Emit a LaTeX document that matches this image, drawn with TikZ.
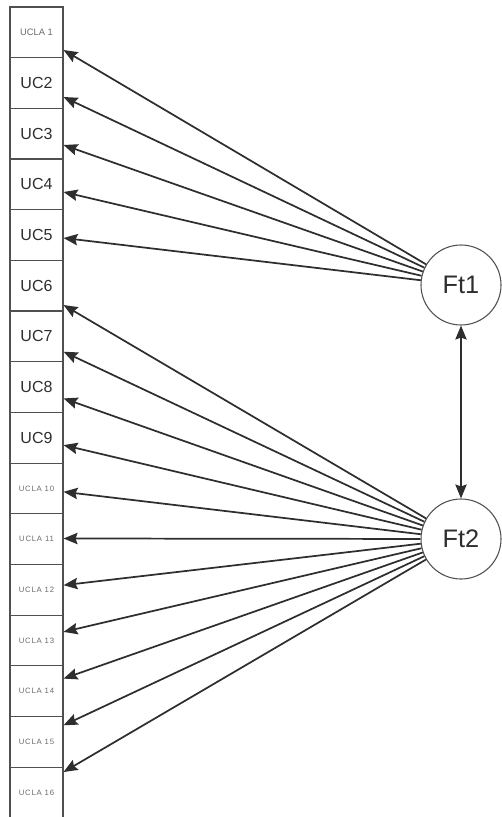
\documentclass[tikz,border=0pt]{standalone}
\usepackage{fontspec}
\setmainfont{Liberation Sans}
\newfontfamily\tinysans[LetterSpace=10]{Liberation Sans}
\usetikzlibrary{arrows.meta}
\definecolor{linegray}{HTML}{2E2E2E}
\definecolor{boxgray}{HTML}{505050}
\definecolor{labelgray}{HTML}{6A6A6A}
\newcommand{\ArrTip}{Stealth[length=10.5pt,width=8.5pt,inset=1.5pt]}
\tikzset{itembox/.style={draw=boxgray,line width=.8pt,minimum width=39.75pt,minimum height=38pt,inner sep=0pt,text=linegray,font=\fontsize{12}{14}\selectfont}}
\tikzset{uclabox/.style={itembox,text=labelgray,font=\tinysans\fontsize{5.8}{6}\selectfont}}
\tikzset{factor/.style={circle,draw=boxgray,line width=.8pt,minimum size=60pt,inner sep=0pt,text=linegray,font=\fontsize{19}{22}\selectfont}}
\tikzset{load/.style={draw=linegray,line width=1.3pt,-{\ArrTip}}}

\begin{document}
\begin{tikzpicture}[x=.75pt,y=-.75pt]
\useasboundingbox(0,0)rectangle(501,817);
% item boxes
\node[uclabox,font=\fontsize{7}{8}\selectfont] (b1) at (36.5,32.33) {UCLA 1};
\foreach \i in {2,...,9}\node[itembox] (b\i) at (36.5,7+\i*50.67-25.33) {UC\i};
\foreach \i in {10,...,16}\node[uclabox] (b\i) at (36.5,7+\i*50.67-25.33) {UCLA \i};
% factors
\node[factor] (Ft1) at (461,285) {Ft1};
\node[factor] (Ft2) at (461,539) {Ft2};
% loadings
\foreach \i/\y in {1/50,2/97,3/145,4/192,5/238}\draw[load] (Ft1) -- (b\i.east |- 0,\y);
\foreach \i [evaluate=\i as \y using 305+(\i-6)*46.7] in {6,...,16}\draw[load] (Ft2) -- (b\i.east |- 0,\y);
\draw[load,{\ArrTip}-{\ArrTip}] (Ft1) -- (Ft2);
\end{tikzpicture}
\end{document}
